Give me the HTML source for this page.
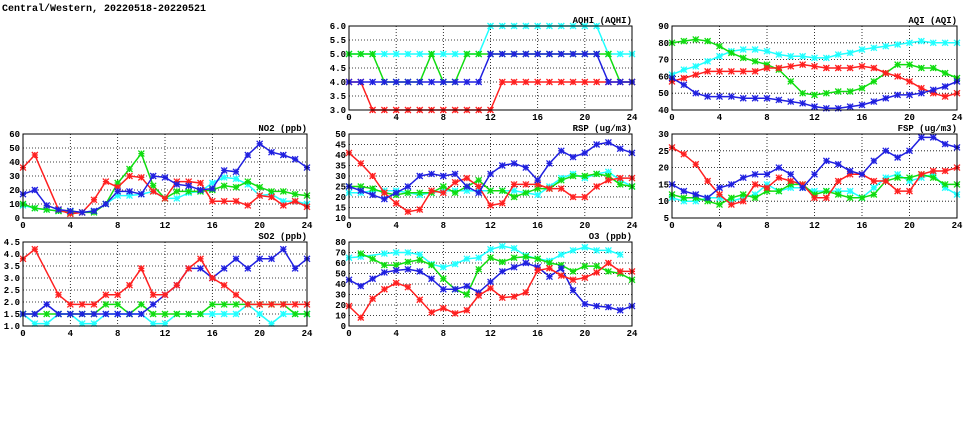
<!DOCTYPE html>
<html><head><meta charset="utf-8"><style>
html,body{margin:0;padding:0;background:#fff;width:975px;height:447px;overflow:hidden}
svg text{font-family:"Liberation Mono","DejaVu Sans Mono",monospace;font-weight:bold;font-size:9px;fill:#000}
</style></head><body>
<svg id="s" width="975" height="447" xmlns="http://www.w3.org/2000/svg">
<text x="2" y="11" style="font-size:10px">Central/Western, 20220518-20220521</text>
</svg>
<script>
const S=document.getElementById('s');
const C={r:'#ff2020',g:'#10dd10',b:'#2020e0',c:'#20ffff'};
function el(t,a,txt){const e=document.createElementNS('http://www.w3.org/2000/svg',t);for(const k in a)e.setAttribute(k,a[k]);if(txt!==undefined)e.textContent=txt;S.appendChild(e);return e;}
function panel(x0,x1,y0,y1,ymin,ymax,ystep,dec,title,series){
 const w=x1-x0,h=y1-y0;
 const X=i=>x0+i*w/24, Y=v=>y1-(v-ymin)/(ymax-ymin)*h;
 for(let i=4;i<24;i+=4)el('line',{x1:X(i),x2:X(i),y1:y0,y2:y1,stroke:'#000','stroke-width':0.8,'stroke-dasharray':'1,2'});
 for(let v=ymin+ystep;v<ymax-1e-9;v+=ystep)el('line',{x1:x0,x2:x1,y1:Y(v),y2:Y(v),stroke:'#000','stroke-width':0.8,'stroke-dasharray':'1,2'});
 for(let i=0;i<=24;i+=4)el('text',{x:X(i),y:y1+10,'text-anchor':'middle'},String(i));
 for(let v=ymin;v<=ymax+1e-9;v+=ystep)el('text',{x:x0-3,y:Y(v)+3,'text-anchor':'end'},v.toFixed(dec));
 el('text',{x:x1,y:y0-3,'text-anchor':'end'},title);
 for(const [c,d] of series){
  let pts=[];d.forEach((v,i)=>{if(v!==null)pts.push(X(i).toFixed(1)+','+Y(v).toFixed(1));});
  el('polyline',{points:pts.join(' '),fill:'none',stroke:C[c],'stroke-width':1.5});
  d.forEach((v,i)=>{if(v===null)return;const x=X(i),y=Y(v),r=3;
   el('path',{d:`M${x-r},${y-r}L${x+r},${y+r}M${x-r},${y+r}L${x+r},${y-r}M${x-r},${y}L${x+r},${y}M${x},${y-r}L${x},${y+r}`,stroke:C[c],'stroke-width':1.3,fill:'none'});});
 }
 el('rect',{x:x0,y:y0,width:w,height:h,fill:'none',stroke:'#000','stroke-width':1});
}
panel(349,632,26,110,3,6,0.5,1,'AQHI (AQHI)',[
['c',[5,5,5,5,5,5,5,5,5,5,5,5,6,6,6,6,6,6,6,6,6,6,5,5,5]],
['g',[5,5,5,4,4,4,4,5,4,4,5,5,5,5,5,5,5,5,5,5,5,5,5,4,4]],
['r',[4,4,3,3,3,3,3,3,3,3,3,3,3,4,4,4,4,4,4,4,4,4,4,4,4]],
['b',[4,4,4,4,4,4,4,4,4,4,4,4,5,5,5,5,5,5,5,5,5,5,4,4,4]]]);
panel(672,957,26,110,40,90,10,0,'AQI (AQI)',[
['c',[61,64,66,69,72,75,76,76,75,73,72,72,71,71,73,74,76,77,78,79,80,81,80,80,80]],
['g',[80,81,82,81,78,74,71,69,67,64,57,50,49,50,51,51,53,57,62,67,67,65,65,62,59]],
['r',[57,59,61,63,63,63,63,63,65,65,66,67,66,65,65,65,66,65,62,60,57,53,50,48,50]],
['b',[59,55,50,48,48,48,47,47,47,46,45,44,42,41,41,42,43,45,47,49,49,50,52,54,57]]]);
panel(23,307,134,218,0,60,10,0,'NO2 (ppb)',[
['c',[9,7,6,5,5,4,5,10,16,16,17,19,14,14,18,19,25,29,28,24,16,17,12,12,10]],
['g',[10,7,6,5,4,4,4,10,25,35,46,23,14,19,19,19,20,23,22,26,22,19,19,17,16]],
['r',[36,45,null,6,3,4,13,26,22,30,29,19,14,26,26,25,12,12,12,9,16,15,9,12,8]],
['b',[17,20,9,6,5,4,5,10,19,19,17,30,29,24,23,20,21,34,33,45,53,47,45,42,36]]]);
panel(349,632,134,218,10,50,5,0,'RSP (ug/m3)',[
['c',[22,22,23,23,23,22,21,22,23,23,23,23,23,23,23,22,21,25,29,31,29,31,32,28,25]],
['g',[25,25,24,22,21,22,22,22,25,22,25,28,23,23,20,22,24,24,28,30,30,31,30,26,25]],
['r',[41,36,30,22,17,13,14,23,22,27,29,25,16,17,26,26,26,24,24,20,20,25,28,29,29]],
['b',[25,23,21,19,22,25,30,31,30,31,25,22,31,35,36,34,28,36,42,39,41,45,46,43,41]]]);
panel(672,957,134,218,5,30,5,0,'FSP (ug/m3)',[
['c',[11,10,10,11,11,10,11,12,15,13,14,14,13,13,13,13,11,14,17,18,16,17,18,14,12]],
['g',[12,11,11,10,9,11,12,11,13,13,15,15,12,13,12,11,11,12,16,17,17,18,17,15,15]],
['r',[26,24,21,16,12,9,10,15,14,17,16,15,11,11,16,18,18,16,16,13,13,18,19,19,20]],
['b',[15,13,12,11,14,15,17,18,18,20,18,14,18,22,21,19,18,22,25,23,25,29,29,27,26]]]);
panel(23,307,242,326,1,4.5,0.5,1,'SO2 (ppb)',[
['c',[1.5,1.1,1.1,1.5,1.5,1.1,1.1,1.5,1.5,1.5,1.5,1.1,1.1,1.5,1.5,1.5,1.5,1.5,1.5,1.9,1.5,1.1,1.5,1.5,1.5]],
['g',[1.5,1.5,1.5,1.5,1.5,1.5,1.5,1.9,1.9,1.5,1.9,1.5,1.5,1.5,1.5,1.5,1.9,1.9,1.9,1.9,1.9,1.9,1.9,1.5,1.5]],
['b',[1.5,1.5,1.9,1.5,1.5,1.5,1.5,1.5,1.5,1.5,1.5,1.9,2.3,2.7,3.4,3.4,3.0,3.4,3.8,3.4,3.8,3.8,4.2,3.4,3.8]],
['r',[3.8,4.2,null,2.3,1.9,1.9,1.9,2.3,2.3,2.7,3.4,2.3,2.3,2.7,3.4,3.8,3.0,2.7,2.3,1.9,1.9,1.9,1.9,1.9,1.9]]]);
panel(349,632,242,326,0,80,10,0,'O3 (ppb)',[
['c',[65,66,null,69,70,70,68,59,56,59,64,65,73,76,74,67,64,62,68,72,75,72,72,68,null]],
['g',[null,69,64,58,58,61,63,58,45,35,30,54,65,61,65,66,64,60,58,52,57,57,52,50,44]],
['b',[44,38,45,51,53,54,52,45,35,35,38,32,42,52,56,60,56,47,55,34,21,19,18,15,19]],
['r',[19,8,26,35,41,37,25,13,17,12,15,29,36,27,28,32,53,55,48,44,46,51,60,52,52]]]);
</script>
</body></html>
